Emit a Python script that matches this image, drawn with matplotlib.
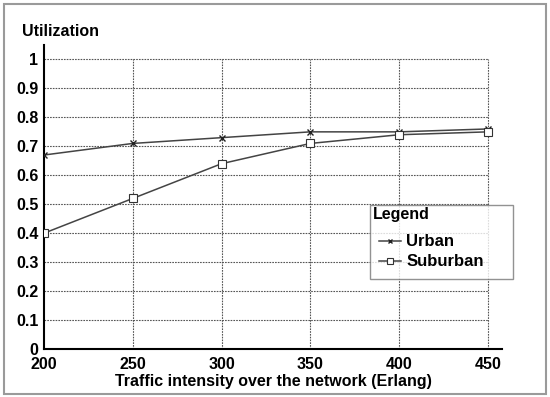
import matplotlib.pyplot as plt
from matplotlib.patches import Rectangle

traffic = [200, 250, 300, 350, 400, 450]
urban = [0.67, 0.71, 0.73, 0.75, 0.75, 0.76]
suburban = [0.40, 0.52, 0.64, 0.71, 0.74, 0.75]
yticks = [0, 0.1, 0.2, 0.3, 0.4, 0.5, 0.6, 0.7, 0.8, 0.9, 1]
ytick_labels = ["0", "0.1", "0.2", "0.3", "0.4", "0.5", "0.6", "0.7", "0.8", "0.9", "1"]

plt.rcParams['font.family'] = ['Liberation Sans', 'DejaVu Sans']
plt.rcParams['font.weight'] = 'bold'
fs = 11

fig = plt.figure(figsize=(5.5, 3.97), dpi=100)
ax = fig.add_axes([44 / 550, 48 / 397, (502 - 44) / 550, (349 - 45) / 397])

# рамка вокруг всей картинки
fig.patches.append(Rectangle((4 / 550, 3 / 397), 542 / 550, 390 / 397,
                             transform=fig.transFigure, fill=False,
                             ec='#9a9a9a', lw=1.5))

# сетка только в пределах данных
for y in yticks[1:]:
    ax.plot([traffic[0], traffic[-1]], [y, y], color='#555555', lw=0.8,
            ls=(0, (1.5, 1)), zorder=1)
for x in traffic[1:]:
    ax.plot([x, x], [0, yticks[-1]], color='#555555', lw=0.8,
            ls=(0, (1.5, 1)), zorder=1)

ax.plot(traffic, urban, color='#444444', lw=1.1, marker='x', ms=5,
        mec='#222222', label='Urban', zorder=3)
ax.plot(traffic, suburban, color='#444444', lw=1.1, marker='s', ms=6,
        mfc='white', mec='#333333', mew=0.8, label='Suburban', zorder=3)

ax.set_xlim(200, 458)
ax.set_ylim(0, 1.05)
ax.set_xticks(traffic)
ax.set_yticks(yticks)
ax.set_yticklabels(ytick_labels)
ax.tick_params(length=0, labelsize=fs + 0.5)
ax.tick_params(axis='y', pad=4)
ax.tick_params(axis='x', pad=6)
for s in ['top', 'right']:
    ax.spines[s].set_visible(False)
for s in ['left', 'bottom']:
    ax.spines[s].set_linewidth(1.5)

ax.set_xlabel("Traffic intensity over the network (Erlang)", fontsize=fs + 0.5,
              fontweight='bold', labelpad=1)
fig.text(22 / 550, 1 - 32 / 397, "Utilization", fontsize=fs + 0.5,
         fontweight='bold', va='center', ha='left')

# легенда: рамка 370..513 по x, 205..277 по y (в пикселях)
lx0 = (370 - 44) / 458
lw = 143 / 458
ly1 = (349 - 205) / 304
lh = 72 / 304
leg = ax.legend(loc='upper left', bbox_to_anchor=(lx0, ly1 - lh, lw, lh),
                borderaxespad=0, mode='expand', title="Legend",
                fontsize=fs + 1, title_fontproperties={'weight': 'bold', 'size': fs + 0.5},
                frameon=True, fancybox=False, edgecolor='#777777',
                handlelength=1.3, handletextpad=0.3, borderpad=0.15,
                labelspacing=0.3, markerscale=0.7)
leg._legend_box.align = 'left'
leg._legend_handle_box.pad = 5
leg.get_frame().set_linewidth(1)

fig.savefig("out.png", dpi=100)
